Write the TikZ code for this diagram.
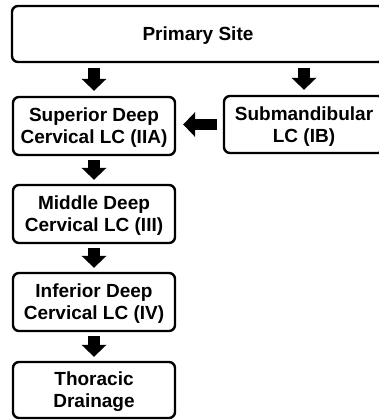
\documentclass[tikz,border=0pt]{standalone}
\usepackage{fontspec}
\setmainfont{Liberation Sans}
\usetikzlibrary{arrows.meta}
\tikzset{
  box/.style={draw=black, line width=2.4pt, rounded corners=6pt, fill=white,
    inner sep=0pt, align=center, text depth=0pt,
    font=\fontsize{19}{22}\selectfont\bfseries},
  blockarrow/.style={line width=11.5pt, draw=black,
    -{Triangle[width=25pt,length=12pt,line width=0pt]}},
}
\begin{document}
\begin{tikzpicture}[x=1pt,y=-1pt]
\useasboundingbox (0,0) rectangle (379,420);
\clip (0,0) rectangle (379,420);
\node[box, minimum width=372pt, minimum height=56pt] (prim) at (198,34) {Primary Site};
\node[box, minimum width=160pt, minimum height=57pt] (sub) at (304,124.5) {Submandibular\\LC (IB)};
\node[box, minimum width=162pt, minimum height=58pt] (sup) at (94,126) {Superior Deep\\Cervical LC (IIA)};
\node[box, minimum width=162pt, minimum height=58pt] (mid) at (94,214) {Middle Deep\\Cervical LC (III)};
\node[box, minimum width=162pt, minimum height=58pt] (inf) at (94,302) {Inferior Deep\\Cervical LC (IV)};
\node[box, minimum width=162pt, minimum height=56pt] (tho) at (94,390) {Thoracic\\Drainage};
\draw[blockarrow, shorten <=5pt, shorten >=5pt] (sup.north |- prim.south) -- (sup.north);
\draw[blockarrow, shorten <=5pt, shorten >=5pt] (sub.north |- prim.south) -- (sub.north);
\draw[blockarrow, shorten <=6pt, shorten >=7pt] (sub.west) -- (sub.west -| sup.east);
\draw[blockarrow, shorten <=4pt, shorten >=4pt] (sup.south) -- (mid.north);
\draw[blockarrow, shorten <=4pt, shorten >=4pt] (mid.south) -- (inf.north);
\draw[blockarrow, shorten <=4pt, shorten >=4pt] (inf.south) -- (tho.north);
\end{tikzpicture}
\end{document}
